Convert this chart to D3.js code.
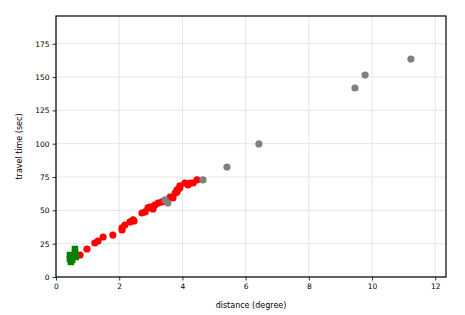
<!DOCTYPE html>
<html>
<head>
<meta charset="utf-8">
<script src="https://cdn.jsdelivr.net/npm/d3@7"></script>
<style>
  body { margin: 0; background: white; }
  text { font-family: "DejaVu Sans", sans-serif; }
</style>
</head>
<body>
<svg id="chart" width="465" height="315"></svg>
<script>
// green squares (short distance)
var greenX = [0.60, 0.60, 0.51, 0.44, 0.47, 0.51, 0.63, 0.44];
var greenY = [21, 18, 15.8, 13.5, 11.3, 12.8, 15, 16.5];

// red circles
var redX = [0.76, 0.63, 0.98, 1.23, 1.33, 1.49, 1.80, 2.09, 2.09, 2.18, 2.34, 2.44, 2.47,
            2.72, 2.82, 2.91, 2.97, 3.04, 3.13, 3.07, 3.23, 3.35, 3.61, 3.70, 3.77, 3.83,
            3.83, 3.92, 3.92, 4.08, 4.18, 4.24, 4.34, 4.46];
var redY = [16.5, 15.8, 21, 25.5, 27, 30, 31.5, 36.8, 35.3, 39, 41.3, 42.8, 42,
            48, 48.8, 51.8, 52.5, 52.5, 54, 51, 55.5, 56.3, 60, 59.3, 63, 63.8,
            65.3, 66.8, 68.3, 70.5, 69, 70.5, 70.5, 72.8];

// gray circles
var grayX = [11.23, 9.78, 9.46, 6.42, 5.41, 4.65, 3.45, 3.54];
var grayY = [163.5, 151.5, 141.8, 99.8, 82.5, 72.8, 57.8, 55.5];

var xTicks = [0, 2, 4, 6, 8, 10, 12];
var yTicks = [0, 25, 50, 75, 100, 125, 150, 175];

var margin = { left: 56, top: 16, right: 19, bottom: 38 };
var width = 465 - margin.left - margin.right;
var height = 315 - margin.top - margin.bottom;

var svg = d3.select("#chart");
var g = svg.append("g").attr("transform", "translate(" + margin.left + "," + margin.top + ")");

var x = d3.scaleLinear().domain([0, 12.34]).range([0, width]);
var y = d3.scaleLinear().domain([0, 195.8]).range([height, 0]);

// grid
g.append("g").selectAll("line.gx").data(xTicks).enter().append("line")
  .attr("x1", d => x(d)).attr("x2", d => x(d))
  .attr("y1", 0).attr("y2", height)
  .attr("stroke", "#e6e6e6").attr("stroke-width", 1);
g.append("g").selectAll("line.gy").data(yTicks).enter().append("line")
  .attr("x1", 0).attr("x2", width)
  .attr("y1", d => y(d)).attr("y2", d => y(d))
  .attr("stroke", "#e6e6e6").attr("stroke-width", 1);

// points
function toPts(xs, ys) {
  return xs.map((v, i) => [v, ys[i]]);
}
g.append("g").selectAll("circle.red").data(toPts(redX, redY)).enter().append("circle")
  .attr("cx", d => x(d[0])).attr("cy", d => y(d[1])).attr("r", 3.6)
  .attr("fill", "#ff0000");
g.append("g").selectAll("circle.gray").data(toPts(grayX, grayY)).enter().append("circle")
  .attr("cx", d => x(d[0])).attr("cy", d => y(d[1])).attr("r", 3.6)
  .attr("fill", "#808080");
var s = 6.5;
g.append("g").selectAll("rect.green").data(toPts(greenX, greenY)).enter().append("rect")
  .attr("x", d => x(d[0]) - s / 2).attr("y", d => y(d[1]) - s / 2)
  .attr("width", s).attr("height", s)
  .attr("fill", "#008000");

// axes
var xAxis = g.append("g").attr("transform", "translate(0," + height + ")")
  .call(d3.axisBottom(x).tickValues(xTicks).tickSize(3.5).tickPadding(3).tickFormat(d3.format("d")));
var yAxis = g.append("g")
  .call(d3.axisLeft(y).tickValues(yTicks).tickSize(3.5).tickPadding(3).tickFormat(d3.format("d")));
[xAxis, yAxis].forEach(a => {
  a.select(".domain").remove();
  a.selectAll("text").attr("font-size", 7.5).attr("fill", "#000").attr("font-family", "DejaVu Sans");
  a.selectAll("line").attr("stroke", "#000").attr("stroke-width", 0.8);
});

// frame
g.append("rect").attr("x", 0).attr("y", 0).attr("width", width).attr("height", height)
  .attr("fill", "none").attr("stroke", "#000").attr("stroke-width", 1.2);

// labels
svg.append("text").attr("x", margin.left + width / 2).attr("y", 308)
  .attr("text-anchor", "middle").attr("font-size", 8).text("distance (degree)");
svg.append("text")
  .attr("transform", "translate(22," + (margin.top + height / 2) + ") rotate(-90)")
  .attr("text-anchor", "middle").attr("font-size", 8).text("travel time (sec)");
</script>
</body>
</html>
